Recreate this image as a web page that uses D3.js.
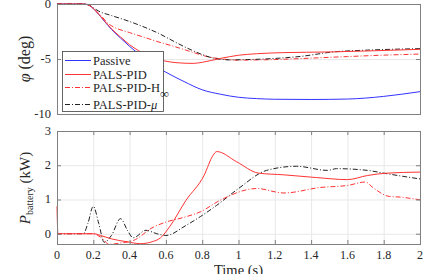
<!DOCTYPE html>
<html>
<head>
<meta charset="utf-8">
<script src="https://cdn.jsdelivr.net/npm/d3@7"></script>
</head>
<body style="margin:0; background:#fff">
<div id="chart"></div>
<script>
// roll angle phi (deg)
var tPassive = [0, 0.15, 0.18, 0.22, 0.26, 0.3, 0.35, 0.4, 0.45, 0.5, 0.6, 0.7, 0.8, 0.9, 1.0, 1.1, 1.2, 1.4, 1.6, 1.8, 1.9, 2.0];
var phiPassive = [0, 0, -0.15, -0.75, -1.55, -2.3, -3.1, -3.85, -4.55, -5.2, -6.2, -7.05, -7.8, -8.2, -8.48, -8.6, -8.66, -8.68, -8.64, -8.4, -8.2, -7.97];

var tPid = [0, 0.15, 0.18, 0.22, 0.26, 0.3, 0.35, 0.4, 0.45, 0.5, 0.55, 0.6, 0.7, 0.75, 0.8, 0.9, 1.0, 1.1, 1.25, 1.5, 1.75, 2.0];
var phiPid = [0, 0, -0.15, -0.75, -1.5, -2.25, -3.0, -3.7, -4.25, -4.7, -5.0, -5.2, -5.38, -5.4, -5.3, -4.95, -4.66, -4.52, -4.42, -4.36, -4.25, -4.12];

var tHinf = [0, 0.15, 0.18, 0.22, 0.25, 0.28, 0.32, 0.4, 0.47, 0.55, 0.65, 0.75, 0.83, 0.91, 1.0, 1.2, 1.4, 1.6, 1.8, 2.0];
var phiHinf = [0, 0, -0.15, -0.7, -1.2, -1.75, -2.15, -2.6, -2.97, -3.4, -3.88, -4.4, -4.79, -5.0, -5.1, -5.05, -4.92, -4.78, -4.65, -4.55];

var tMu = [0, 0.15, 0.17, 0.2, 0.23, 0.3, 0.375, 0.45, 0.56, 0.65, 0.74, 0.87, 0.95, 1.05, 1.2, 1.35, 1.52, 1.7, 2.0];
var phiMu = [0, 0, -0.05, -0.35, -0.65, -1.05, -1.45, -1.9, -2.67, -3.45, -4.18, -4.95, -5.08, -5.05, -4.95, -4.75, -4.36, -4.2, -4.06];

// battery power (kW)
var tPidP = [0, 0.005, 0.1, 0.2, 0.24, 0.3, 0.38, 0.46, 0.52, 0.57, 0.62, 0.71, 0.81, 0.86, 0.88, 0.99, 1.11, 1.25, 1.43, 1.6, 1.71, 1.82, 2.0];
var pPid = [0.8, 0, 0, 0, -0.05, -0.15, -0.23, -0.29, -0.24, -0.12, 0.2, 0.97, 1.7, 2.29, 2.4, 2.1, 1.77, 1.72, 1.64, 1.58, 1.7, 1.77, 1.8];

var tHinfP = [0, 0.1, 0.2, 0.24, 0.29, 0.35, 0.42, 0.53, 0.6, 0.7, 0.79, 0.9, 1.1, 1.25, 1.45, 1.6, 1.7, 1.74, 1.83, 1.89, 2.0];
var pHinf = [0, 0, 0, -0.1, -0.31, -0.27, -0.2, 0.19, 0.34, 0.48, 0.64, 0.98, 1.32, 1.19, 1.35, 1.41, 1.51, 1.35, 1.09, 1.07, 0.99];

var tMuP = [0, 0.145, 0.17, 0.2, 0.23, 0.26, 0.3, 0.35, 0.39, 0.42, 0.49, 0.55, 0.6, 0.71, 0.79, 0.88, 1.0, 1.155, 1.32, 1.49, 1.54, 1.71, 1.82, 2.0];
var pMu = [0, 0, 0.3, 0.8, 0.3, -0.25, -0.05, 0.44, 0.08, -0.12, 0.1, 0.0, -0.05, 0.24, 0.5, 0.83, 1.32, 1.85, 1.97, 1.85, 1.9, 1.85, 1.75, 1.6];

var xTicks = [0, 0.2, 0.4, 0.6, 0.8, 1, 1.2, 1.4, 1.6, 1.8, 2];
var phiTicks = [0, -5, -10];
var pTicks = [0, 1, 2, 3];

var W = 436, H = 274;
var FONT = "'Liberation Serif', 'Times New Roman', serif";
var svg = d3.select("#chart").append("svg")
    .attr("width", W)
    .attr("height", H)
    .style("display", "block");

var x = d3.scaleLinear().domain([0, 2]).range([57, 420]);
var yTop = d3.scaleLinear().domain([-10, 0]).range([114, 4]);
var yBot = d3.scaleLinear().domain([-0.3, 3]).range([244, 131]);

var axisCol = "#808080", gridCol = "#e8e8e8", txtCol = "#262626";
var dashDot = "5,2,1,2";

function zip(ts, vs) { return ts.map(function(t, i) { return [t, vs[i]]; }); }

function label(g, px, py, size) {
    return g.append("text")
        .attr("x", px).attr("y", py)
        .style("font-family", FONT)
        .style("font-size", size + "px")
        .attr("fill", txtCol);
}

// ---- top panel ----
var gTop = svg.append("g");
// grid at -5 only
gTop.append("line")
    .attr("x1", x(0)).attr("x2", x(2))
    .attr("y1", yTop(-5) + 0.5).attr("y2", yTop(-5) + 0.5)
    .attr("stroke", gridCol);

var lineTop = d3.line()
    .x(function(d) { return x(d[0]); })
    .y(function(d) { return yTop(d[1]); })
    .curve(d3.curveMonotoneX);

var topSeries = [
    {t: tPassive, v: phiPassive, col: "#3333ff", dash: null},
    {t: tHinf, v: phiHinf, col: "#ff3333", dash: dashDot},
    {t: tMu, v: phiMu, col: "#222222", dash: dashDot},
    {t: tPid, v: phiPid, col: "#ff3333", dash: null}
];
topSeries.forEach(function(s) {
    gTop.append("path")
        .attr("d", lineTop(zip(s.t, s.v)))
        .attr("fill", "none")
        .attr("stroke", s.col)
        .attr("stroke-width", 1)
        .attr("stroke-dasharray", s.dash);
});

// box + ticks
gTop.append("rect")
    .attr("x", x(0) + 0.5).attr("y", yTop(0) + 0.5)
    .attr("width", x(2) - x(0)).attr("height", yTop(-10) - yTop(0))
    .attr("fill", "none").attr("stroke", axisCol);
phiTicks.forEach(function(v) {
    gTop.append("line").attr("x1", x(0)).attr("x2", x(0) + 4)
        .attr("y1", yTop(v) + 0.5).attr("y2", yTop(v) + 0.5).attr("stroke", axisCol);
    gTop.append("line").attr("x1", x(2) - 4).attr("x2", x(2))
        .attr("y1", yTop(v) + 0.5).attr("y2", yTop(v) + 0.5).attr("stroke", axisCol);
    label(gTop, 51, yTop(v) + 4, 12.5)
        .attr("text-anchor", "end")
        .text(v);
});

label(gTop, 0, 0, 16)
    .attr("transform", "translate(30,59) rotate(-90)")
    .attr("text-anchor", "middle")
    .html('<tspan font-style="italic">φ</tspan> (deg)');

// legend
var leg = gTop.append("g");
leg.append("rect")
    .attr("x", 62.5).attr("y", 51.5).attr("width", 101).attr("height", 60)
    .attr("fill", "#fff").attr("stroke", "#404040").attr("stroke-width", 0.8);
var legItems = [
    {label: "Passive", col: "#3333ff", dash: null, y: 60.5},
    {label: "PALS-PID", col: "#ff3333", dash: null, y: 74.5},
    {label: "PALS-PID-H", col: "#ff3333", dash: dashDot, y: 87.5, sub: "∞"},
    {label: "PALS-PID-", col: "#222222", dash: dashDot, y: 104.5, mu: true}
];
legItems.forEach(function(d) {
    leg.append("line")
        .attr("x1", 65).attr("x2", 91).attr("y1", d.y).attr("y2", d.y)
        .attr("stroke", d.col).attr("stroke-dasharray", d.dash);
    var tx = label(leg, 93, d.y + 4, 12.5)
        .text(d.label);
    if (d.sub) tx.append("tspan").attr("dy", 6).text(d.sub);
    if (d.mu) tx.append("tspan").attr("font-style", "italic").text("μ");
});

// ---- bottom panel ----
var gBot = svg.append("g");
xTicks.forEach(function(v) {
    if (v > 0 && v < 2) {
        gBot.append("line").attr("x1", x(v) + 0.5).attr("x2", x(v) + 0.5)
            .attr("y1", yBot(3)).attr("y2", yBot(-0.3)).attr("stroke", gridCol);
    }
});
pTicks.forEach(function(v) {
    if (v < 3) {
        gBot.append("line").attr("x1", x(0)).attr("x2", x(2))
            .attr("y1", yBot(v) + 0.5).attr("y2", yBot(v) + 0.5).attr("stroke", gridCol);
    }
});

var lineBot = d3.line()
    .x(function(d) { return x(d[0]); })
    .y(function(d) { return yBot(d[1]); })
    .curve(d3.curveMonotoneX);

var botSeries = [
    {t: tMuP, v: pMu, col: "#222222", dash: dashDot},
    {t: tHinfP, v: pHinf, col: "#ff3333", dash: dashDot},
    {t: tPidP, v: pPid, col: "#ff3333", dash: null}
];
botSeries.forEach(function(s) {
    gBot.append("path")
        .attr("d", lineBot(zip(s.t, s.v)))
        .attr("fill", "none")
        .attr("stroke", s.col)
        .attr("stroke-width", 1)
        .attr("stroke-dasharray", s.dash);
});

gBot.append("rect")
    .attr("x", x(0) + 0.5).attr("y", yBot(3) + 0.5)
    .attr("width", x(2) - x(0)).attr("height", yBot(-0.3) - yBot(3))
    .attr("fill", "none").attr("stroke", axisCol);

xTicks.forEach(function(v) {
    gBot.append("line").attr("x1", x(v) + 0.5).attr("x2", x(v) + 0.5)
        .attr("y1", yBot(-0.3)).attr("y2", yBot(-0.3) - 4).attr("stroke", axisCol);
    gBot.append("line").attr("x1", x(v) + 0.5).attr("x2", x(v) + 0.5)
        .attr("y1", yBot(3)).attr("y2", yBot(3) + 4).attr("stroke", axisCol);
    label(gBot, x(v), 259, 12)
        .attr("text-anchor", "middle")
        .text(v);
});
pTicks.forEach(function(v) {
    gBot.append("line").attr("x1", x(0)).attr("x2", x(0) + 4)
        .attr("y1", yBot(v) + 0.5).attr("y2", yBot(v) + 0.5).attr("stroke", axisCol);
    gBot.append("line").attr("x1", x(2) - 4).attr("x2", x(2))
        .attr("y1", yBot(v) + 0.5).attr("y2", yBot(v) + 0.5).attr("stroke", axisCol);
    label(gBot, 51, yBot(v) + 4, 12.5)
        .attr("text-anchor", "end")
        .text(v);
});

label(gBot, 0, 0, 15)
    .attr("transform", "translate(30,188) rotate(-90)")
    .attr("text-anchor", "middle")
    .html('<tspan font-style="italic">P</tspan><tspan font-size="10px" dy="3">battery</tspan><tspan dy="-3"> (kW)</tspan>');

label(svg, (x(0) + x(2)) / 2, 275, 14.5)
    .attr("text-anchor", "middle")
    .text("Time (s)");
</script>
</body>
</html>
